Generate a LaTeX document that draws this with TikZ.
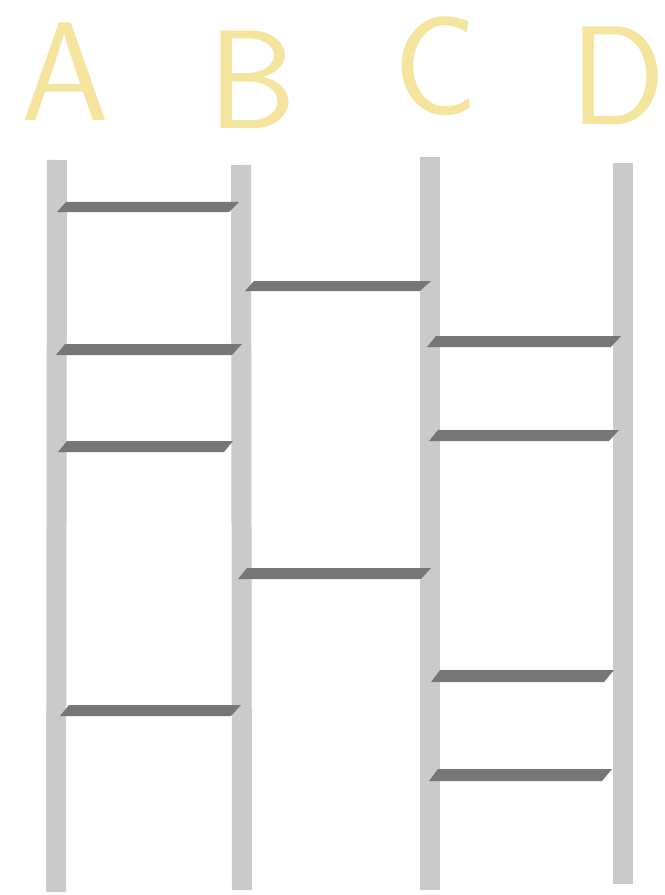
\documentclass[tikz,border=0pt]{standalone}
\usepackage{tikz}

\definecolor{polegray}{RGB}{202,202,202}
\definecolor{runggray}{RGB}{118,118,118}
\definecolor{chalk}{RGB}{244,228,158}

\begin{document}
\begin{tikzpicture}[x=0.02cm, y=-0.02cm,
    pole/.style={draw=polegray, line width=0.4cm},
    rung/.style={fill=runggray},
    letter/.style={text=chalk, font=\sffamily\fontsize{80}{80}\selectfont, inner sep=0pt}]
      \useasboundingbox (0,0) rectangle (665,895);

      % labels
      \node[letter] (labA) at (65,72) {A};
      \node[letter] (labB) at (252,80) {B};
      \node[letter] (labC) at (436,66) {C};
      \node[letter] (labD) at (618,76) {D};

      % poles
      \coordinate (Atop) at (57,160);
      \coordinate (Abot) at (56,892);
      \coordinate (Btop) at (241,165);
      \coordinate (Bbot) at (242,890);
      \coordinate (Ctop) at (430,157);
      \coordinate (Cbot) at (430,890);
      \coordinate (Dtop) at (623,163);
      \coordinate (Dbot) at (623,884);

      \draw[pole] (Atop) -- (Abot);
      \draw[pole] (Btop) -- (Bbot);
      \draw[pole] (Ctop) -- (Cbot);
      \draw[pole] (Dtop) -- (Dbot);

      % rungs A-B
      \fill[rung] (57,212) -- (229,212) -- (239,202) -- (66,202) -- cycle;
      \fill[rung] (56,355) -- (232,355) -- (242,344) -- (65,344) -- cycle;
      \fill[rung] (58,452) -- (224,452) -- (233,441) -- (67,441) -- cycle;
      \fill[rung] (60,716) -- (231,716) -- (241,705) -- (69,705) -- cycle;

      % rungs B-C
      \fill[rung] (245,291) -- (420,291) -- (431,281) -- (254,281) -- cycle;
      \fill[rung] (238,579) -- (421,579) -- (431,568) -- (247,568) -- cycle;

      % rungs C-D
      \fill[rung] (427,347) -- (611,347) -- (621,336) -- (436,336) -- cycle;
      \fill[rung] (429,441) -- (609,441) -- (619,430) -- (438,430) -- cycle;
      \fill[rung] (431,682) -- (604,682) -- (614,670) -- (440,670) -- cycle;
      \fill[rung] (429,781) -- (602,781) -- (612,769) -- (438,769) -- cycle;
    \end{tikzpicture}
\end{document}
